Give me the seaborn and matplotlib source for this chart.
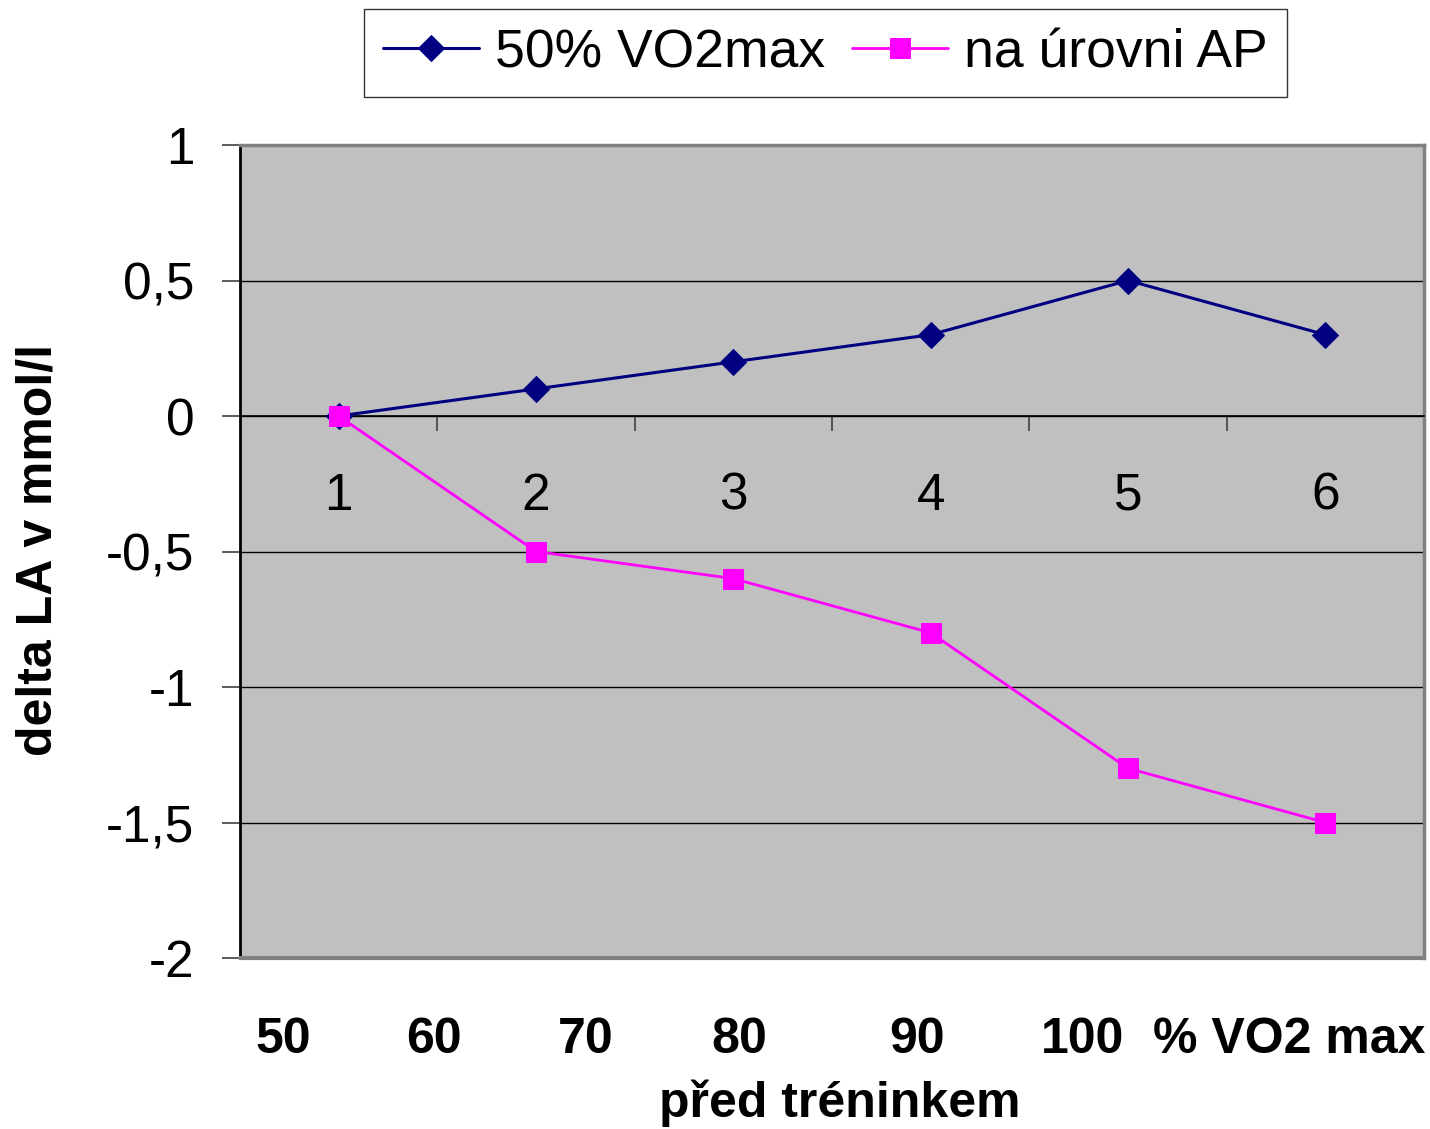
import matplotlib
matplotlib.use("Agg")
import matplotlib.pyplot as plt
import seaborn as sns
import pandas as pd
from matplotlib.ticker import FixedLocator, FixedFormatter

# Data
categories = [1, 2, 3, 4, 5, 6]
vo2_50 = [0.0, 0.1, 0.2, 0.3, 0.5, 0.3]
ap_level = [0.0, -0.5, -0.6, -0.8, -1.3, -1.5]
series_names = ["50% VO2max", "na úrovni AP"]
y_ticks = [-2, -1.5, -1, -0.5, 0, 0.5, 1]
y_tick_labels = ["-2", "-1,5", "-1", "-0,5", "0", "0,5", "1"]
load_labels = ["50", "60", "70", "80", "90", "100", "% VO2 max"]
x_title = "před tréninkem"
y_title = "delta LA v mmol/l"

sns.set_style("white")
plt.rcParams["font.family"] = ["Liberation Sans", "DejaVu Sans"]
plt.rcParams["text.color"] = "black"
plt.rcParams["xtick.color"] = "black"
plt.rcParams["ytick.color"] = "black"
plt.rcParams["xtick.labelcolor"] = "black"
plt.rcParams["ytick.labelcolor"] = "black"

fig = plt.figure(figsize=(14.3, 11.29), dpi=100)
ax = fig.add_axes([240 / 1430, 1 - 958 / 1129, 1184 / 1430, 813 / 1129])
ax.set_facecolor("#C0C0C0")

df = pd.DataFrame({"pos": range(len(categories)), "a": vo2_50, "b": ap_level})
sns.lineplot(data=df, x="pos", y="a", ax=ax, color="#000080", linewidth=2.2,
             marker="D", markersize=13, markeredgecolor="#000080",
             label=series_names[0], zorder=4)
sns.lineplot(data=df, x="pos", y="b", ax=ax, color="#FF00FF", linewidth=2.0,
             marker="s", markersize=14, markeredgecolor="#FF00FF",
             label=series_names[1], zorder=5)

ax.set_xlim(-0.5, len(categories) - 0.5)
ax.set_ylim(-2, 1)

# y axis
ax.set_yticks(y_ticks)
ax.set_yticklabels(y_tick_labels)
ax.tick_params(axis="y", direction="out", length=13, width=1.2, color="#404040",
               pad=20, labelsize=37, left=True, labelcolor="black")
ax.yaxis.grid(True, color="black", linewidth=1.0)
ax.xaxis.grid(False)
ax.set_axisbelow(True)

# category axis crossing at zero
ax.spines["bottom"].set_position(("data", 0))
ax.spines["bottom"].set_color("black")
ax.spines["bottom"].set_linewidth(1.2)
ax.xaxis.set_major_locator(FixedLocator([i + 0.5 for i in range(len(categories))]))
ax.xaxis.set_major_formatter(FixedFormatter([""] * len(categories)))
ax.xaxis.set_minor_locator(FixedLocator(list(range(len(categories)))))
ax.xaxis.set_minor_formatter(FixedFormatter([str(c) for c in categories]))
ax.tick_params(axis="x", which="major", direction="out", length=11, width=1.2,
               color="#404040", bottom=True)
ax.tick_params(axis="x", which="minor", length=0, pad=40, labelsize=37, bottom=True,
               labelcolor="black")
ax.set_xlabel("")
ax.set_ylabel("")

# plot-area frame
ax.spines["left"].set_color("black")
ax.spines["left"].set_linewidth(2.0)
for side in ("top", "right"):
    ax.spines[side].set_color("#808080")
    ax.spines[side].set_linewidth(2.5)
ax.plot([0, 1], [0, 0], transform=ax.transAxes, color="#808080",
        linewidth=3, clip_on=False, zorder=6)

# legend
handles, labels = ax.get_legend_handles_labels()
ax.get_legend().remove()
leg = fig.legend(handles, labels, loc="center", bbox_to_anchor=(825.5 / 1430, 1 - 53 / 1129),
                 ncol=2, fontsize=38.5, frameon=True, fancybox=False, edgecolor="black",
                 handlelength=1.8, handletextpad=0.3, columnspacing=0.5,
                 borderpad=0.35, borderaxespad=0)
leg.get_frame().set_linewidth(1.0)

# axis titles
fig.text(39 / 1430, 1 - 550 / 1129, y_title, rotation=90, ha="center", va="center",
         fontsize=36, fontweight="bold")
label_x = [283, 434, 586, 739, 917, 1083]
for x, t in zip(label_x, load_labels[:-1]):
    fig.text(x / 1430, 1 - 1040 / 1129, t, ha="center", va="center",
             fontsize=36, fontweight="bold")
fig.text(1153 / 1430, 1 - 1040 / 1129, load_labels[-1], ha="left", va="center",
         fontsize=36, fontweight="bold")
fig.text(840 / 1430, 1 - 1103 / 1129, x_title, ha="center", va="center",
         fontsize=36, fontweight="bold")

fig.savefig("out.png", dpi=100, facecolor="white")
